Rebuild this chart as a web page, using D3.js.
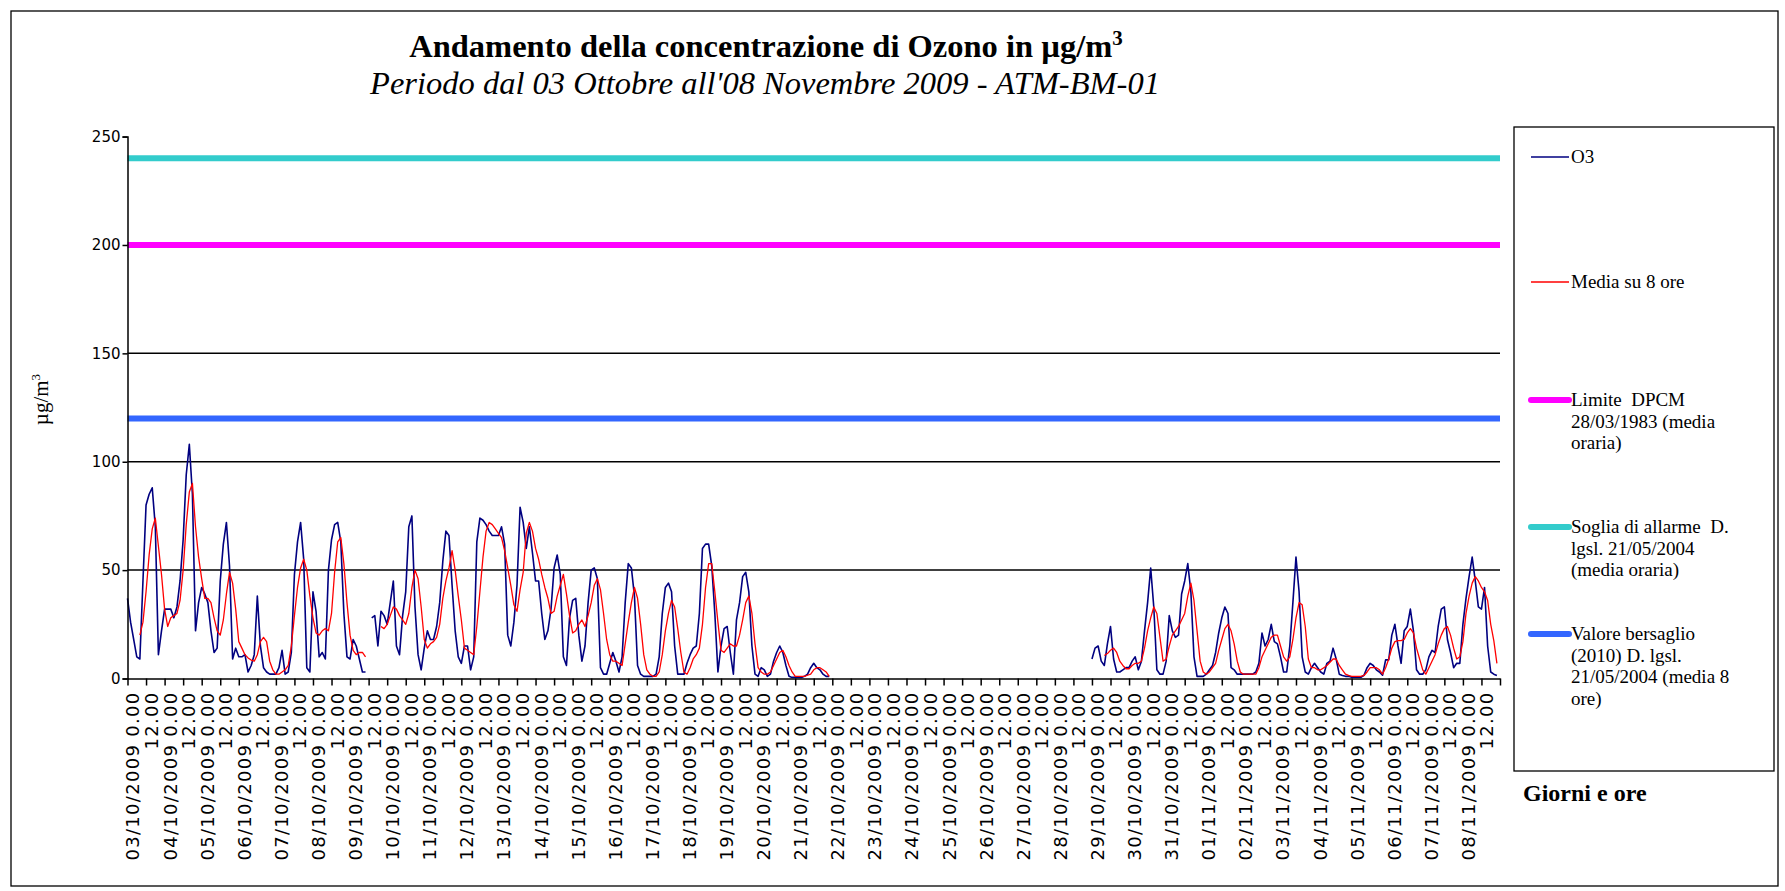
<!DOCTYPE html>
<html>
<head>
<meta charset="utf-8">
<script src="https://cdn.jsdelivr.net/npm/d3@7/dist/d3.min.js"></script>
<style>
  body { margin: 0; background: #ffffff; }
  svg { display: block; }
</style>
</head>
<body>
<svg id="chart" width="1785" height="891"></svg>
<script>
// ---------------- DATA ----------------
const chartTitle = "Andamento della concentrazione di Ozono in \u00b5g/m";
const chartSubtitle = "Periodo dal 03 Ottobre all'08 Novembre 2009 - ATM-BM-01";
const yAxisTitle = "\u00b5g/m";
const xAxisTitle = "Giorni e ore";

const days = [
  "03/10/2009","04/10/2009","05/10/2009","06/10/2009","07/10/2009","08/10/2009","09/10/2009",
  "10/10/2009","11/10/2009","12/10/2009","13/10/2009","14/10/2009","15/10/2009","16/10/2009",
  "17/10/2009","18/10/2009","19/10/2009","20/10/2009","21/10/2009","22/10/2009","23/10/2009",
  "24/10/2009","25/10/2009","26/10/2009","27/10/2009","28/10/2009","29/10/2009","30/10/2009",
  "31/10/2009","01/11/2009","02/11/2009","03/11/2009","04/11/2009","05/11/2009","06/11/2009",
  "07/11/2009","08/11/2009"
];
const dayTimes = ["0.00", "12.00"];
const hoursPerDay = 24;
const stepHours = 2;          // one value every 2 hours
const yTicks = [0, 50, 100, 150, 200, 250];
const gridValues = [50, 100, 150, 200];

// O3 (µg/m3), one row per day, values at 0,2,4,...,22 h
const o3 = [
  37,26,18,10,9,45,80,85,88,70,11,22,
  32,32,32,28,33,45,64,94,108,85,22,35,
  42,39,35,22,12,14,45,62,72,52,9,14,
  10,10,11,3,6,11,38,15,5,3,2,2,
  2,5,13,2,3,12,48,63,72,55,5,3,
  40,31,10,12,9,50,64,71,72,63,30,10,
  9,18,15,9,3,3,null,28,29,15,31,29,
  25,35,45,15,11,29,40,70,75,33,11,4,
  14,22,18,18,24,35,54,68,66,43,22,10,
  7,15,15,4,10,63,74,73,71,68,66,66,
  66,70,62,20,15,26,43,79,72,60,70,58,
  45,45,30,18,22,32,51,57,48,10,6,28,
  36,37,20,8,15,35,50,51,46,5,2,2,
  7,12,8,3,10,35,53,51,38,6,2,1,
  1,1,1,2,10,30,42,44,40,15,2,2,
  2,7,11,14,15,30,60,62,62,52,30,3,
  15,23,24,12,2,27,35,47,49,40,15,2,
  1,5,4,1,2,8,12,15,12,6,1,0.5,
  0.5,0.5,0.5,1,2,5,7,5,4,2,1,1,
  null,null,null,null,null,null,null,null,null,null,null,null,
  null,null,null,null,null,null,null,null,null,null,null,null,
  null,null,null,null,null,null,null,null,null,null,null,null,
  null,null,null,null,null,null,null,null,null,null,null,null,
  null,null,null,null,null,null,null,null,null,null,null,null,
  null,null,null,null,null,null,null,null,null,null,null,null,
  null,null,null,null,null,null,null,null,null,null,null,null,
  9,14,15,8,6,16,24,9,3,3,4,5,
  5,8,10,4,8,22,35,51,33,4,2,2,
  8,29,22,19,20,39,45,53,40,10,1,1,
  1,2,4,6,12,21,28,33,30,5,4,2,
  2,2,2,2,2,3,7,21,15,18,25,17,
  16,10,3,3,15,35,56,40,10,3,2,5,
  7,5,3,2,7,8,14,9,2,1.4,1,1,
  0.6,0.6,0.6,0.6,1.5,5,7,6,4,3,1.5,8.6,
  8.6,20,25,15,7,22,24,32,22,4,2,2,
  4,10,13,12,24,32,33,18,12,5,7,7,
  25,37,47,56,45,33,32,42,15,3,2,1.4
];

// Media su 8 ore (µg/m3), same layout
const media8 = [
  null,null,null,null,20,26,40,57,69,74,61,48,
  32,24,28,29,30,36,50,71,86,90,70,56,
  46,37,37,35,28,22,20,27,39,49,44,32,
  17,14,11,9.5,8.5,8,11,17,19,17,8,4,
  2,2,3,4,6,15,29,42,51,55,50,38,
  28,21,20,22,23,22,30,49,63,65,53,35,
  20,13,11,12,12,10,null,null,null,null,24,23,
  25,29,33,32,29,27,25,30,42,50,46,33,
  18,14,16,17,19,25,37,45,51,59,50,38,
  27,14,13,12,11,24,40,56,68,72,71,69,
  67,65,59,51,43,34,31,41,49,67,72,68,
  60,55,48,42,37,30,31,38,43,48,39,29,
  21,22,25,27,24,29,35,43,46,41,30,18,
  11,8,8,7,6,16,26,35,42,37,25,11,
  4,2,1,1,3,11,22,30,36,33,23,12,
  3,2,5,9,11,14,25,42,53,53,40,26,
  13,12,14,16,15,15,20,27,35,38,30,16,
  5,3,2,2,3,6,9,12,13,10,6,3,
  1,1,1,1,1.5,2,4,5,5,4,3,1,
  null,null,null,null,null,null,null,null,null,null,null,null,
  null,null,null,null,null,null,null,null,null,null,null,null,
  null,null,null,null,null,null,null,null,null,null,null,null,
  null,null,null,null,null,null,null,null,null,null,null,null,
  null,null,null,null,null,null,null,null,null,null,null,null,
  null,null,null,null,null,null,null,null,null,null,null,null,
  null,null,null,null,null,null,null,null,null,null,null,null,
  null,null,null,null,10.6,11.5,13,14,12,8,6,4.5,
  4.5,6,7,7,8,14,22,28,33,30,19,8,
  9,15,20,22,24,27,30,38,44,36,22,8,
  3,2,3,5,7,13,18,23,25,22,16,8,
  3,2,2,2,2,2,5,10,13,16,19,20,
  20,15,10,8,10,18,28,35,34,24,9,5,
  5,4,4,5,6,7.5,9,9,6,4,2,1.4,
  1,1,1,1,1.4,3,5,5,5,4,2,5,
  9,14,17,17.5,17.5,18,21,23,21,14,9,4,
  2,5,8,11,16,20,23,24,20,14,9,10,
  17,30,38,44,47,45,42,40,36,25,17.5,7
];

// Threshold series (constant values)
const limiteDPCM = 200;
const sogliaAllarme = 240;
const valoreBersaglio = 120;

const legendLabels = [
  ["O3"],
  ["Media su 8 ore"],
  ["Limite  DPCM", "28/03/1983 (media", "oraria)"],
  ["Soglia di allarme  D.", "lgsl. 21/05/2004", "(media oraria)"],
  ["Valore bersaglio", "(2010) D. lgsl.", "21/05/2004 (media 8", "ore)"]
];

// ---------------- DRAWING ----------------
const svg = d3.select("#chart");
const plot = { left: 127.5, right: 1500, top: 136.6, bottom: 678.5 };
const nHours = days.length * hoursPerDay;

const x = d3.scaleLinear().domain([0, nHours]).range([plot.left, plot.right]);
const y = d3.scaleLinear().domain([0, 250]).range([plot.bottom, plot.top]);

const serif = "'Liberation Serif', 'Times New Roman', serif";
const sans = "'DejaVu Sans', Verdana, sans-serif";

// Outer frame
svg.append("rect").attr("x", 11).attr("y", 11).attr("width", 1767).attr("height", 875)
  .attr("fill", "#fff").attr("stroke", "#000").attr("stroke-width", 1.3);

// Title
const t = svg.append("text").attr("x", 766).attr("y", 57).attr("text-anchor", "middle")
  .attr("font-family", serif).attr("font-weight", "bold").attr("font-size", 32.5).attr("fill", "#000");
t.append("tspan").text(chartTitle);
t.append("tspan").attr("font-size", 21).attr("dy", -12).text("3");

svg.append("text").attr("x", 765).attr("y", 94).attr("text-anchor", "middle")
  .attr("font-family", serif).attr("font-style", "italic").attr("font-size", 32.5).attr("fill", "#000")
  .text(chartSubtitle);

// Gridlines
svg.append("g").selectAll("line").data(gridValues).join("line")
  .attr("x1", plot.left).attr("x2", plot.right)
  .attr("y1", d => y(d)).attr("y2", d => y(d))
  .attr("stroke", "#000").attr("stroke-width", 1.5);

// Threshold lines
const thresholds = [
  { v: sogliaAllarme, c: "#33CCCC" },
  { v: limiteDPCM, c: "#FF00FF" },
  { v: valoreBersaglio, c: "#3366FF" }
];
svg.append("g").selectAll("line").data(thresholds).join("line")
  .attr("x1", plot.left).attr("x2", plot.right)
  .attr("y1", d => y(d.v)).attr("y2", d => y(d.v))
  .attr("stroke", d => d.c).attr("stroke-width", 6);

// Series lines
const line = d3.line()
  .defined(d => d != null)
  .x((d, i) => x(i * stepHours))
  .y(d => y(d));

svg.append("path").datum(o3).attr("d", line)
  .attr("fill", "none").attr("stroke", "#000080").attr("stroke-width", 1.6)
  .attr("stroke-linejoin", "round");
svg.append("path").datum(media8).attr("d", line)
  .attr("fill", "none").attr("stroke", "#FF0000").attr("stroke-width", 1.3)
  .attr("stroke-linejoin", "round");

// Y axis
const yAxis = d3.axisLeft(y).tickValues(yTicks).tickSize(5).tickPadding(2).tickFormat(d3.format("d"));
const gy = svg.append("g").attr("transform", `translate(${plot.left},0)`).call(yAxis);
gy.select(".domain").attr("stroke", "#000").attr("stroke-width", 1.5);
gy.selectAll(".tick line").attr("stroke", "#000").attr("stroke-width", 1.5);
gy.selectAll(".tick text").attr("font-family", sans).attr("font-size", 15).attr("fill", "#000");

// X axis
const tickLabels = days.flatMap(d => dayTimes.map((tm, k) => k === 0 ? `${d} ${tm}` : tm));
const xTickVals = d3.range(0, nHours + 1, 12);
const xAxis = d3.axisBottom(x).tickValues(xTickVals).tickSize(7).tickSizeOuter(0)
  .tickFormat((d, i) => tickLabels[i] || "");
const gx = svg.append("g").attr("transform", `translate(0,${plot.bottom})`).call(xAxis);
gx.select(".domain").attr("stroke", "#000").attr("stroke-width", 1.5);
gx.selectAll(".tick line").attr("stroke", "#000").attr("stroke-width", 1.5);
gx.selectAll(".tick text")
  .attr("font-family", sans).attr("font-size", 18).attr("letter-spacing", 1.3).attr("fill", "#000")
  .attr("transform", "rotate(-90)")
  .attr("text-anchor", "end")
  .attr("x", -13).attr("y", 5).attr("dy", "0.36em");

// Y axis title
const yt = svg.append("text").attr("transform", `translate(48,${(plot.top + plot.bottom) / 2 - 8}) rotate(-90)`)
  .attr("text-anchor", "middle").attr("font-family", serif).attr("font-size", 21).attr("fill", "#000");
yt.append("tspan").text(yAxisTitle);
yt.append("tspan").attr("font-size", 13).attr("dy", -8).text("3");

// X axis title
svg.append("text").attr("x", 1523).attr("y", 801)
  .attr("font-family", serif).attr("font-weight", "bold").attr("font-size", 24).attr("fill", "#000")
  .text(xAxisTitle);

// Legend
const lg = svg.append("g");
lg.append("rect").attr("x", 1514).attr("y", 127).attr("width", 260).attr("height", 644)
  .attr("fill", "#fff").attr("stroke", "#000").attr("stroke-width", 1.3);
const legendStyle = [
  { c: "#000080", w: 1.6 },
  { c: "#FF0000", w: 1.3 },
  { c: "#FF00FF", w: 6 },
  { c: "#33CCCC", w: 6 },
  { c: "#3366FF", w: 6 }
];
const legendY = [157, 282, 400, 527, 634];
legendLabels.forEach((lines, i) => {
  const yy = legendY[i];
  lg.append("line").attr("x1", 1531).attr("x2", 1569).attr("y1", yy).attr("y2", yy)
    .attr("stroke", legendStyle[i].c).attr("stroke-width", legendStyle[i].w)
    .attr("stroke-linecap", legendStyle[i].w > 3 ? "round" : "butt");
  const tx = lg.append("text").attr("x", 1571).attr("y", yy)
    .attr("font-family", serif).attr("font-size", 19).attr("fill", "#000")
    .style("white-space", "pre");
  lines.forEach((s, k) => {
    tx.append("tspan").attr("x", 1571).attr("dy", k === 0 ? "0.33em" : "1.13em").text(s);
  });
});
</script>
</body>
</html>
